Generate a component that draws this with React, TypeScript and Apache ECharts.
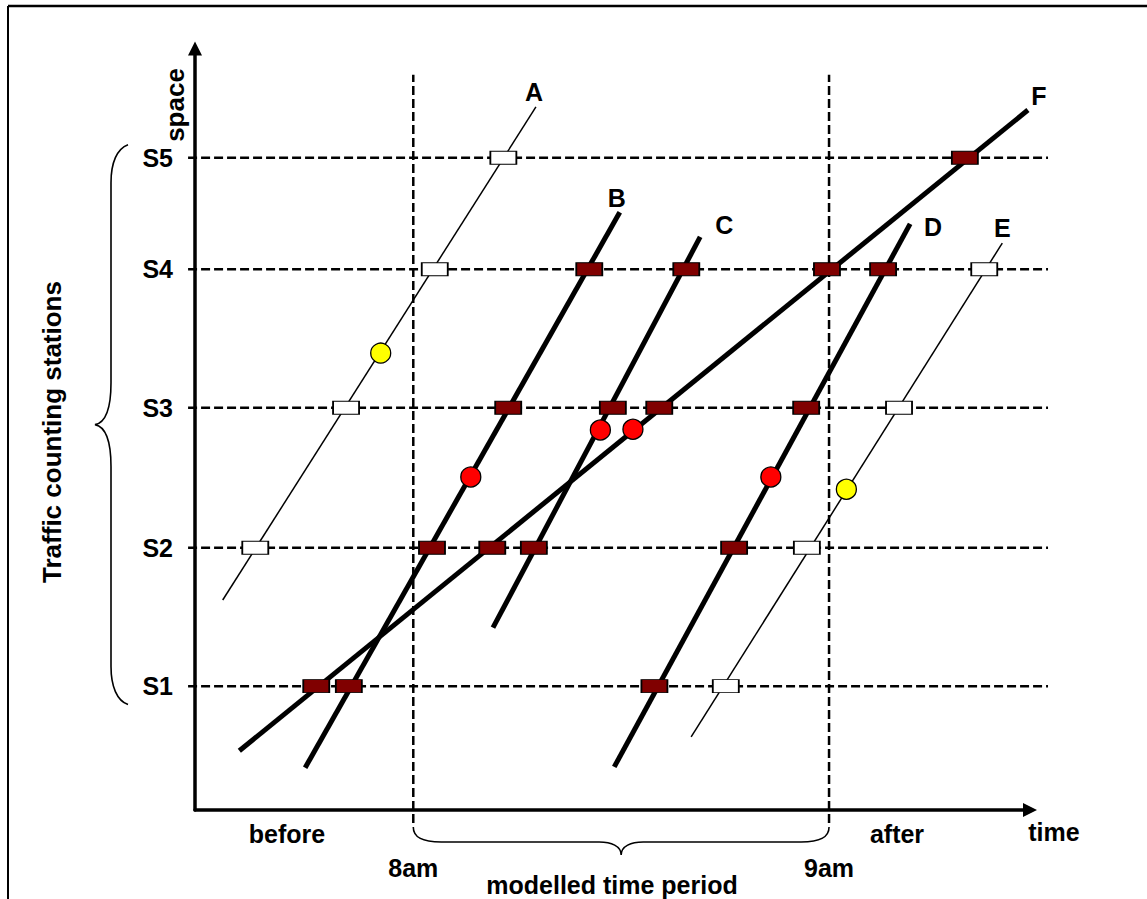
import React, { useEffect, useRef } from 'react';
import * as echarts from 'echarts';

// time in minutes after 7:00, space in arbitrary distance units
const stationNames = ['S1', 'S2', 'S3', 'S4', 'S5'];
const stationPos = [16.1, 34.1, 52.3, 70.3, 84.8];

const periodBounds = [60, 120];
const periodLabels = ['8am', '9am'];

const tripNames = ['A', 'B', 'C', 'D', 'E', 'F'];
const tripStart = [
  [32.5, 27.3],
  [44.4, 5.5],
  [71.5, 23.7],
  [89.0, 5.6],
  [100.1, 9.5],
  [34.9, 7.7],
];
const tripEnd = [
  [77.7, 91.4],
  [89.8, 77.7],
  [101.4, 74.5],
  [131.7, 76.2],
  [145.0, 73.7],
  [148.7, 91.0],
];

// [time, station index]
const countedObs = [
  [46.0, 0], [50.7, 0], [94.8, 0],
  [62.7, 1], [71.4, 1], [77.4, 1], [106.3, 1],
  [73.7, 2], [88.8, 2], [95.5, 2], [116.7, 2],
  [85.4, 3], [99.4, 3], [119.7, 3], [127.8, 3],
  [139.6, 4],
];
const uncountedObs = [
  [105.1, 0],
  [37.2, 1], [116.8, 1],
  [50.3, 2], [130.1, 2],
  [63.1, 3], [142.4, 3],
  [73.0, 4],
];
const midpointsIn = [[68.3, 43.3], [87.0, 49.4], [91.7, 49.5], [111.6, 43.3]];
const midpointsOut = [[55.3, 59.4], [122.5, 41.7]];

const braceSpace = [13.7, 86.5];

// styling / layout
const X_MIN = 28.5;
const X_MAX = 149;
const Y_MAX = 99;
const REF_X = [27.5, 151.6];
const REF_Y = [-1.7, 95.6];
const thinTrips = ['A', 'E'];
const labelOffsets: Record<string, number[]> = {
  A: [-2, -15],
  B: [-3, -14],
  C: [24, -12],
  D: [23, 3],
  E: [0, -15],
  F: [11, -14],
};
const FONT = '"Liberation Sans", Arial, sans-serif';
const dashStyle = { fill: 'none', stroke: '#000', lineWidth: 2.5, lineDash: [9, 4] };

const textEl = (text: string, x: number, y: number, rotation = 0, size = 25) => ({
  type: 'text',
  x,
  y,
  rotation,
  silent: true,
  style: {
    text,
    fill: '#000',
    font: `bold ${size}px ${FONT}`,
    align: 'center',
    verticalAlign: 'middle',
    textAlign: 'center',
    textVerticalAlign: 'middle',
  },
});

const App: React.FC = () => {
  const chartRef = useRef<HTMLDivElement>(null);

  useEffect(() => {
    if (!chartRef.current) return;
    const chart = echarts.init(chartRef.current, undefined, { renderer: 'svg' });

    // dashed station and period reference lines (drawn past the axes, like the original)
    const refLines = {
      type: 'custom',
      silent: true,
      clip: false,
      z: 1,
      data: [
        ...stationPos.map((s) => [REF_X[0], s, REF_X[1], s]),
        ...periodBounds.map((t) => [t, REF_Y[0], t, REF_Y[1]]),
      ],
      encode: { x: [0, 2], y: [1, 3] },
      renderItem: (_params: any, api: any) => {
        const p1 = api.coord([api.value(0), api.value(1)]);
        const p2 = api.coord([api.value(2), api.value(3)]);
        return {
          type: 'line',
          shape: { x1: p1[0], y1: p1[1], x2: p2[0], y2: p2[1] },
          style: dashStyle,
        };
      },
    };

    const tripLines = tripNames.map((name, i) => ({
      type: 'line',
      name,
      silent: true,
      clip: false,
      symbol: 'none',
      z: 2,
      lineStyle: { color: '#000', width: thinTrips.includes(name) ? 1.5 : 5, cap: 'butt' },
      data: [
        { value: tripStart[i] },
        {
          value: tripEnd[i],
          symbol: 'circle',
          symbolSize: 0,
          label: {
            show: true,
            position: 'inside',
            offset: labelOffsets[name],
            formatter: name,
            color: '#000',
            fontSize: 25,
            fontWeight: 'bold',
            fontFamily: FONT,
          },
        },
      ],
    }));

    const braces = {
      type: 'custom',
      silent: true,
      clip: false,
      z: 2,
      data: [0],
      renderItem: (_params: any, api: any) => {
        const [x1, y0] = api.coord([periodBounds[0], 0]);
        const [x2] = api.coord([periodBounds[1], 0]);
        const xm = (x1 + x2) / 2;
        const yA = y0 + 17;
        const yH = y0 + 32;
        const yT = y0 + 45;
        const bottom =
          `M${x1} ${yA} C${x1} ${yA + 10} ${x1 + 8} ${yH} ${x1 + 28} ${yH} ` +
          `L${xm - 22} ${yH} C${xm - 10} ${yH} ${xm} ${yH + 4} ${xm} ${yT} ` +
          `C${xm} ${yH + 4} ${xm + 10} ${yH} ${xm + 22} ${yH} ` +
          `L${x2 - 28} ${yH} C${x2 - 8} ${yH} ${x2} ${yA + 10} ${x2} ${yA}`;

        const [ax, yTop] = api.coord([X_MIN, braceSpace[1]]);
        const [, yBot] = api.coord([X_MIN, braceSpace[0]]);
        const yMid = (yTop + yBot) / 2;
        const xe = ax - 67;
        const xv = ax - 84;
        const xt = ax - 100;
        const left =
          `M${xe} ${yTop} C${xe - 11} ${yTop + 4} ${xv} ${yTop + 18} ${xv} ${yTop + 38} ` +
          `L${xv} ${yMid - 42} C${xv} ${yMid - 14} ${xv - 6} ${yMid - 2} ${xt} ${yMid} ` +
          `C${xv - 6} ${yMid + 2} ${xv} ${yMid + 14} ${xv} ${yMid + 42} ` +
          `L${xv} ${yBot - 38} C${xv} ${yBot - 18} ${xe - 11} ${yBot - 4} ${xe} ${yBot}`;

        return {
          type: 'group',
          children: [
            { type: 'path', shape: { pathData: bottom }, style: { fill: 'none', stroke: '#000', lineWidth: 1.6 } },
            { type: 'path', shape: { pathData: left }, style: { fill: 'none', stroke: '#000', lineWidth: 1.6 } },
          ],
        };
      },
    };

    const rectMarker = (data: number[][], fill: string) => ({
      type: 'scatter',
      silent: true,
      z: 3,
      symbol: 'rect',
      symbolSize: [26, 13],
      itemStyle: { color: fill, borderColor: '#000', borderWidth: 1.3, opacity: 1 },
      data: data.map(([t, si]) => [t, stationPos[si]]),
    });

    const circleMarker = (data: number[][], fill: string) => ({
      type: 'scatter',
      silent: true,
      z: 3,
      symbol: 'circle',
      symbolSize: 20,
      itemStyle: { color: fill, borderColor: '#000', borderWidth: 1.3, opacity: 1 },
      data,
    });

    const option = {
      animation: false,
      backgroundColor: '#fff',
      grid: {
        left: 195,
        right: 117,
        top: 48.5,
        bottom: 89,
        containLabel: false,
        outerBoundsMode: 'none',
      },
      xAxis: {
        type: 'value',
        min: X_MIN,
        max: X_MAX,
        axisLine: {
          show: true,
          onZero: false,
          symbol: ['none', 'triangle'],
          symbolSize: [14, 14],
          lineStyle: { color: '#000', width: 3.5 },
        },
        axisTick: { show: false },
        splitLine: { show: false },
        axisLabel: {
          customValues: periodBounds,
          formatter: (v: number) => periodLabels[periodBounds.indexOf(v)] ?? '',
          margin: 45,
          color: '#000',
          fontSize: 25,
          fontWeight: 'bold',
          fontFamily: FONT,
        },
      },
      yAxis: {
        type: 'value',
        min: 0,
        max: Y_MAX,
        axisLine: {
          show: true,
          onZero: false,
          symbol: ['none', 'triangle'],
          symbolSize: [14, 14],
          lineStyle: { color: '#000', width: 3.5 },
        },
        axisTick: { show: false },
        splitLine: { show: false },
        axisLabel: {
          customValues: stationPos,
          formatter: (v: number) => {
            const i = stationPos.findIndex((s) => Math.abs(s - v) < 1e-6);
            return i >= 0 ? stationNames[i] : '';
          },
          margin: 22,
          color: '#000',
          fontSize: 25,
          fontWeight: 'bold',
          fontFamily: FONT,
        },
      },
      graphic: [
        { type: 'line', silent: true, shape: { x1: 8, y1: 6, x2: 1147, y2: 6 }, style: { stroke: '#000', lineWidth: 2.5 } },
        { type: 'line', silent: true, shape: { x1: 8, y1: 6, x2: 8, y2: 899 }, style: { stroke: '#000', lineWidth: 2 } },
        textEl('space', 175, 105, Math.PI / 2, 26),
        textEl('Traffic counting stations', 52, 432, Math.PI / 2, 26),
        textEl('before', 287, 834),
        textEl('after', 897, 834),
        textEl('time', 1054, 832),
        textEl('modelled time period', 612, 885),
      ],
      series: [
        refLines,
        ...tripLines,
        braces,
        rectMarker(countedObs, '#800000'),
        rectMarker(uncountedObs, '#ffffff'),
        circleMarker(midpointsIn, '#ff0000'),
        circleMarker(midpointsOut, '#ffff00'),
      ],
    };

    chart.setOption(option as any);

    return () => {
      chart.dispose();
    };
  }, []);

  return (
    <div
      ref={chartRef}
      style={{ position: 'absolute', left: 0, top: 0, width: 1147, height: 899, background: '#fff' }}
    />
  );
};

export default App;
